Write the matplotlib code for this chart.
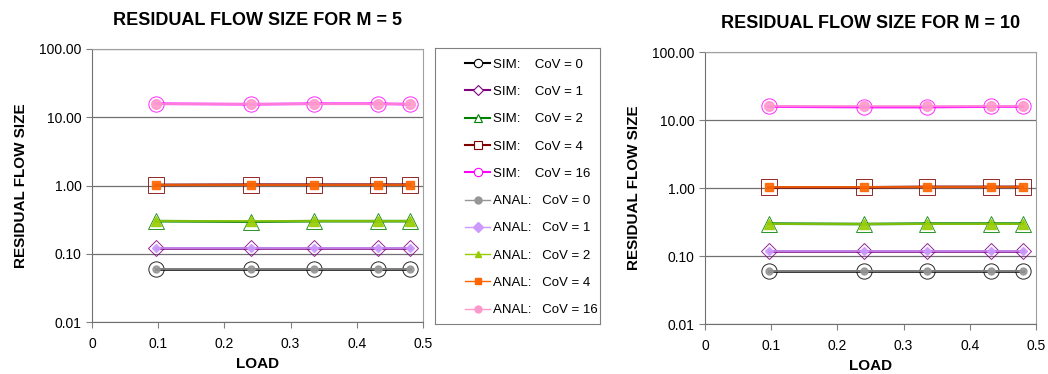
import matplotlib.pyplot as plt
from matplotlib.lines import Line2D

plt.rcParams['font.family'] = ['Liberation Sans', 'DejaVu Sans']

load = [0.096, 0.24, 0.336, 0.432, 0.48]
cov_labels = ["0", "1", "2", "4", "16"]

# simulated residual flow size, M = 5
sim_m5 = [
    [0.060, 0.060, 0.060, 0.060, 0.060],
    [0.120, 0.120, 0.120, 0.120, 0.120],
    [0.300, 0.295, 0.300, 0.300, 0.300],
    [1.02, 1.03, 1.03, 1.03, 1.03],
    [15.8, 15.5, 15.8, 15.8, 15.5],
]
anal_m5 = [
    [0.060, 0.060, 0.060, 0.060, 0.060],
    [0.120, 0.120, 0.120, 0.120, 0.120],
    [0.300, 0.300, 0.300, 0.300, 0.300],
    [1.03, 1.03, 1.03, 1.03, 1.03],
    [15.8, 15.8, 15.8, 15.8, 15.8],
]
# simulated residual flow size, M = 10
sim_m10 = [
    [0.060, 0.060, 0.060, 0.060, 0.060],
    [0.120, 0.120, 0.120, 0.120, 0.120],
    [0.300, 0.295, 0.300, 0.300, 0.300],
    [1.02, 1.02, 1.04, 1.04, 1.04],
    [15.8, 15.5, 15.5, 15.8, 15.8],
]
anal_m10 = [
    [0.060, 0.060, 0.060, 0.060, 0.060],
    [0.120, 0.120, 0.120, 0.120, 0.120],
    [0.300, 0.300, 0.300, 0.300, 0.300],
    [1.03, 1.03, 1.03, 1.03, 1.03],
    [15.8, 15.8, 15.8, 15.8, 15.8],
]

sim_colors = ["#000000", "#800080", "#008000", "#800000", "#FF00FF"]
sim_markers = ["o", "D", "^", "s", "o"]
sim_msize = [11, 8.5, 11, 11, 11]
anal_colors = ["#969696", "#CC99FF", "#99CC00", "#FF6600", "#FF99CC"]
anal_markers = ["o", "D", "^", "s", "o"]
anal_msize = [5, 4.5, 6.5, 6, 7]

W, H = 1048, 374
fig = plt.figure(figsize=(W / 100, H / 100), dpi=100)


def px_axes(x0, y0, x1, y1):
    return fig.add_axes([x0 / W, (H - y1) / H, (x1 - x0) / W, (y1 - y0) / H])


def draw_panel(ax, sim, anal, title):
    for i in range(len(cov_labels)):
        ax.plot(load, sim[i], color=sim_colors[i], lw=2, marker=sim_markers[i],
                ms=sim_msize[i], mfc="none", mec=sim_colors[i], mew=0.7,
                alpha=0.85, zorder=3)
    for i in range(len(cov_labels)):
        ax.plot(load, anal[i], color=anal_colors[i], lw=1.2, marker=anal_markers[i],
                ms=anal_msize[i], mfc=anal_colors[i], mec=anal_colors[i],
                alpha=0.9, zorder=4)
    ax.set_yscale("log")
    ax.set_ylim(0.01, 100)
    ax.set_xlim(0, 0.5)
    ax.set_yticks([0.01, 0.1, 1, 10, 100])
    ax.set_yticklabels(["0.01", "0.10", "1.00", "10.00", "100.00"])
    ax.yaxis.set_minor_locator(plt.NullLocator())
    ax.set_xticks([0, 0.1, 0.2, 0.3, 0.4, 0.5])
    ax.set_xticklabels(["0", "0.1", "0.2", "0.3", "0.4", "0.5"])
    ax.tick_params(labelsize=10, length=4, color="#808080", direction="out")
    ax.tick_params(axis="x", pad=7)
    ax.grid(axis="y", color="#707070", lw=0.9)
    ax.set_axisbelow(True)
    for s in ["left", "bottom"]:
        ax.spines[s].set_color("#707070")
    for s in ["top", "right"]:
        ax.spines[s].set_color("#a0a0a0")
    ax.set_xlabel("LOAD", fontsize=11, fontweight="bold", labelpad=4)
    ax.set_ylabel("RESIDUAL FLOW SIZE", fontsize=11, fontweight="bold", labelpad=8)
    ax.set_title(title, fontsize=13, fontweight="bold", pad=17)


ax1 = px_axes(92, 49, 423, 322)
draw_panel(ax1, sim_m5, anal_m5, "RESIDUAL FLOW SIZE FOR M = 5")
ax2 = px_axes(705, 52, 1036, 324)
draw_panel(ax2, sim_m10, anal_m10, "RESIDUAL FLOW SIZE FOR M = 10")

# legend box between the panels
lax = px_axes(435, 48, 600, 324)
lax.set_xticks([])
lax.set_yticks([])
for s in lax.spines.values():
    s.set_color("#808080")

handles = []
labels = []
for i, c in enumerate(cov_labels):
    handles.append(Line2D([], [], color=sim_colors[i], lw=1.5, marker=sim_markers[i],
                          ms=6 if sim_markers[i] != "D" else 5, mfc="white",
                          mec=sim_colors[i], mew=0.8))
    labels.append("SIM:    CoV = " + c)
for i, c in enumerate(cov_labels):
    handles.append(Line2D([], [], color=anal_colors[i], lw=1, marker=anal_markers[i],
                          ms=5, mfc=anal_colors[i], mec=anal_colors[i]))
    labels.append("ANAL:   CoV = " + c)

lax.legend(handles, labels, loc="upper left", bbox_to_anchor=(0.12, 1.0),
           frameon=False, fontsize=9.5, handlelength=1.9, handletextpad=0.2,
           labelspacing=1.14, borderpad=0.3)

fig.savefig("out.png", dpi=100)
